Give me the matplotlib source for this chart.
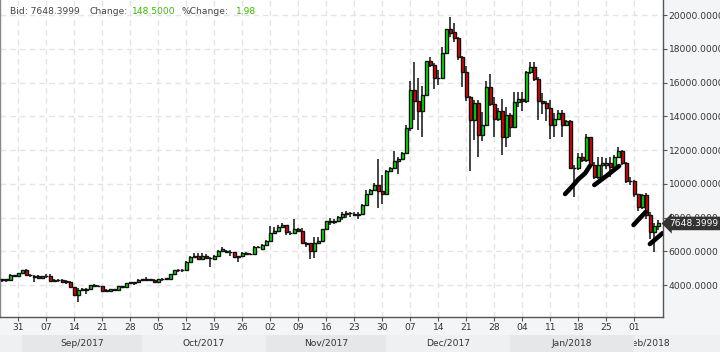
import matplotlib
matplotlib.use('Agg')
import matplotlib.pyplot as plt
import matplotlib.dates as mdates
import matplotlib.transforms as mtransforms
from matplotlib.patches import Rectangle
import pandas as pd
import numpy as np

# ---------------- data (daily candles, 2017-08-26 .. 2018-02-07) ----------------
dates = pd.date_range('2017-08-26', '2018-02-07', freq='D')

opens = [
    4340, 4330, 4310, 4316, 4590, 4553,
    4711, 4869, 4593, 4560, 4514, 4435, 4514, 4514, 4237, 4300, 4316, 4198, 4198, 3881, 3408,
    3724, 3710, 3763, 4000, 3921, 3921, 3645, 3645, 3763, 3684, 3921, 3900, 4119, 4160, 4184,
    4307, 4310, 4347, 4307, 4184, 4347, 4360, 4347, 4633, 4878, 4860, 4878, 5368, 5653, 5694,
    5531, 5694, 5592, 5531, 5735, 6020, 6000, 5939, 5939, 5653, 5694, 5898, 5816, 5816, 6250, 6118,
    6392, 6588, 7058, 7215, 7450, 7529, 7098, 7058, 7294, 7176, 6470, 6470, 6000, 6470, 6627,
    7294, 7764, 7740, 7764, 8038, 8234, 8274, 8234, 8156, 8195, 8744, 9410, 9646, 9920, 9567,
    9371, 10782, 10939, 11370, 11440, 11796, 13300, 15552, 14919, 14287, 15235, 17252, 17015, 16264, 16264,
    17726, 19150, 18992, 18636, 17489, 16619, 15156, 13773, 14761, 12863, 13496, 15710, 14722, 13812, 14287, 12744,
    14049, 13377, 14840, 14998, 14880, 16619, 16911, 16198, 14931, 14772, 14495, 13466, 13862, 14178, 13466,
    13703, 10931, 10931, 11604, 11406, 12753, 11109, 10377, 11109, 11109, 11208, 10971, 11565, 11921, 11248, 10139,
    10139, 9387, 8634, 9308, 8120, 7149, 7506,
]
highs = [
    4370, 4360, 4370, 4650, 4620, 4740,
    4900, 4920, 4650, 4600, 4593, 4560, 4632, 4632, 4330, 4330, 4340, 4316, 4220, 3900, 3800,
    3800, 3840, 4020, 4040, 3990, 3940, 3763, 3790, 3790, 3950, 3970, 4140, 4205, 4205, 4330,
    4368, 4470, 4380, 4330, 4370, 4429, 4400, 4650, 4900, 4939, 4939, 5400, 5735, 5898, 5898,
    5898, 5857, 5653, 5760, 6050, 6265, 6050, 6061, 5980, 5735, 5930, 5940, 5880, 6300, 6300, 6420,
    6666, 7490, 7450, 7568, 7646, 7550, 7176, 7882, 7372, 7372, 6549, 6470, 6862, 6862, 7320,
    7800, 8000, 7882, 8060, 8352, 8391, 8300, 8313, 8313, 8780, 9606, 9680, 10038, 11488, 10547,
    10820, 11000, 11919, 11606, 11875, 13500, 16066, 17212, 16264, 15789, 17300, 17529, 17133, 16738, 18122,
    19200, 19862, 19506, 18700, 17550, 17000, 15200, 14959, 14959, 14247, 16066, 16501, 15117, 14500, 15038, 14563,
    14200, 15433, 15433, 15433, 16700, 17228, 17228, 16300, 15366, 14900, 14970, 14178, 14376, 14376, 13782,
    13782, 11100, 11800, 11800, 12950, 12800, 11300, 11604, 11604, 11500, 11604, 11700, 12198, 12000, 11300, 10400,
    10200, 9400, 9400, 9450, 8300, 7700, 7842,
]
lows = [
    4300, 4200, 4200, 4260, 4520, 4530,
    4690, 4550, 4470, 4198, 4356, 4400, 4435, 4198, 4220, 4200, 4180, 4080, 3860, 3369, 2973,
    3645, 3487, 3750, 3900, 3900, 3620, 3566, 3620, 3660, 3670, 3880, 3890, 4062, 4001, 4170,
    4246, 4266, 4230, 4150, 4160, 4266, 4300, 4330, 4600, 4755, 4776, 4860, 5286, 5592, 5490,
    5510, 5531, 5082, 5510, 5720, 5980, 5900, 5694, 5620, 5388, 5680, 5790, 5780, 5790, 6180, 6100,
    6370, 6570, 7019, 7156, 7430, 6980, 6941, 7019, 7150, 6470, 6235, 5530, 5608, 6450, 6600,
    7270, 7529, 7607, 7740, 7842, 8000, 8038, 8078, 7882, 8180, 8720, 9390, 9567, 8587, 8822,
    9350, 10700, 10900, 10586, 11400, 11760, 13150, 13773, 13180, 12744, 15200, 16900, 15631, 15829, 16200,
    17700, 18700, 18400, 17331, 15749, 14900, 10728, 12586, 11598, 12547, 13450, 14600, 12744, 13700, 11677, 12191,
    12800, 13300, 14563, 14300, 14812, 16500, 16100, 13782, 14139, 13700, 12634, 12753, 13800, 12792, 13400,
    10850, 9228, 10800, 11300, 11300, 11000, 10300, 10300, 10416, 10900, 10416, 10900, 11500, 11100, 10020, 9900,
    9200, 8400, 8500, 7900, 6700, 5950, 7248,
]
closes = [
    4330, 4320, 4340, 4593, 4560, 4711,
    4869, 4593, 4570, 4474, 4435, 4514, 4520, 4237, 4300, 4280, 4198, 4210, 3881, 3408, 3724,
    3710, 3763, 4000, 3921, 3960, 3645, 3660, 3763, 3684, 3921, 3900, 4119, 4144, 4140, 4307,
    4310, 4347, 4320, 4184, 4347, 4360, 4380, 4633, 4878, 4860, 4878, 5368, 5653, 5735, 5531,
    5694, 5592, 5600, 5735, 6020, 6143, 5939, 5960, 5653, 5694, 5898, 5816, 5830, 6265, 6235, 6392,
    6588, 7058, 7215, 7450, 7529, 7137, 7058, 7294, 7176, 6470, 6450, 6000, 6470, 6627, 7294,
    7764, 7740, 7764, 8038, 8234, 8274, 8260, 8156, 8195, 8744, 9410, 9646, 9920, 9567, 9371,
    10782, 10939, 11370, 11440, 11796, 13300, 15552, 14919, 14287, 15235, 17252, 17015, 16264, 16280, 17726,
    19150, 18952, 18636, 17489, 16619, 15156, 13773, 14761, 12863, 13496, 15710, 14722, 13812, 14287, 12744, 14049,
    13377, 14840, 14998, 14880, 16619, 16911, 16198, 14931, 14772, 14495, 13466, 13862, 14178, 13466, 13703,
    10931, 10960, 11604, 11406, 12753, 11109, 10377, 11109, 11208, 11248, 10971, 11565, 11921, 11248, 10139, 10150,
    9387, 8634, 9308, 8120, 7149, 7506, 7648,
]

ytick_values = [4000, 6000, 8000, 10000, 12000, 14000, 16000, 18000, 20000]
xtick_dates = pd.date_range('2017-08-31', '2018-02-01', freq='7D')
xtick_labels = ['31', '07', '14', '21', '28', '05', '12', '19', '26', '02', '09', '16',
                '23', '30', '07', '14', '21', '28', '04', '11', '18', '25', '01']
month_starts = ['2017-08-01', '2017-09-01', '2017-10-01', '2017-11-01', '2017-12-01',
                '2018-01-01', '2018-02-01', '2018-03-01']
month_labels = ['', 'Sep/2017', 'Oct/2017', 'Nov/2017', 'Dec/2017', 'Jan/2018', 'Feb/2018']

last_price = 7648.3999
header = [('Bid: 7648.3999', 'label'), ('Change:', 'label'), ('148.5000', 'value'),
          ('%Change:', 'label'), ('1.98', 'value')]

# hand-drawn black strokes (days after 2017-08-31, price)
strokes = [
    ([136.7, 138.4, 140.0, 141.7, 142.9], [9393, 9825, 10263, 10619, 11052]),
    ([144.0, 147.0, 150.2], [9926, 10459, 11052]),
    ([153.8, 155.3, 156.85], [7555, 7940, 8326]),
    ([157.9, 159.5, 161.0], [6430, 6750, 7064]),
]

# ---------------- figure ----------------
W, H = 720, 352
fig = plt.figure(figsize=(W / 100, H / 100), dpi=100)
fig.patch.set_facecolor('#f4f5f7')
plt.rcParams['font.family'] = ['DejaVu Sans']

ax = fig.add_axes([0, 35 / H, 663 / W, 317 / H])
ax.set_facecolor('white')

x = mdates.date2num(dates)
x0 = mdates.date2num(pd.Timestamp('2017-08-31'))
ppd = 4.0
xl = (x0 - 18.3 / ppd, x0 + (663 - 18.3) / ppd)
ax.set_xlim(*xl)
ax.set_ylim(2104, 20889)

o = np.array(opens, float); h = np.array(highs, float)
l = np.array(lows, float); c = np.array(closes, float)
up = c >= o
cols = np.where(up, '#00ee00', '#ee0000')
bottom = np.minimum(o, c)
height = np.maximum(np.abs(c - o), 30)

ax.vlines(x, l, h, color='#111111', lw=1.1, zorder=3)
ax.bar(x, height, bottom=bottom, width=0.88, color=cols, edgecolor='#111111',
       linewidth=1.0, zorder=4)

for sd, sp in strokes:
    ax.plot(x0 + np.array(sd), sp, color='black', lw=3.3, solid_capstyle='round',
            solid_joinstyle='round', zorder=6)

# grid
ax.set_xticks(mdates.date2num(xtick_dates))
ax.set_xticklabels(xtick_labels)
ax.set_yticks(ytick_values)
ax.set_yticklabels([f'{v:.4f}' for v in ytick_values])
ax.grid(True, color='#e4e4e4', lw=1.0, ls=(0, (4, 3)))
ax.set_axisbelow(True)
ax.yaxis.tick_right()
ax.tick_params(axis='y', direction='out', length=3, width=0.8, pad=1.0,
               labelsize=6.6, colors='#555555', labelcolor='#333333')
ax.tick_params(axis='x', direction='out', length=3, width=0.8, pad=1.5,
               labelsize=6.6, colors='#555555', labelcolor='#333333')
ax.spines['top'].set_visible(False)
ax.spines['left'].set_color('#888888')
ax.spines['right'].set_color('#555555')
ax.spines['bottom'].set_color('#555555')
for s in ['left', 'right', 'bottom']:
    ax.spines[s].set_linewidth(1.0)

# last price tag
trans = mtransforms.blended_transform_factory(ax.transAxes, ax.transData)
ax.text(1.0 + 6 / 663, last_price, f'{last_price:.4f}', transform=trans, ha='left', va='center',
        color='white', fontsize=6.6, clip_on=False, zorder=10,
        bbox=dict(boxstyle='larrow,pad=0.25', fc='#333333', ec='none'))

# header
xs_px = [10, 90, 132, 182, 236]
for (txt, kind), xp in zip(header, xs_px):
    fig.text(xp / W, (H - 11) / H, txt, ha='left', va='center', fontsize=6.6,
             color='#444444' if kind == 'label' else '#3cb800')

# month band
axb = fig.add_axes([0, 0, 1, 17 / H])
axb.set_xlim(xl[0], x0 + (W - 18.3) / ppd)
axb.set_ylim(0, 1)
axb.axis('off')
ms = [mdates.date2num(pd.Timestamp(m)) - 0.15 for m in month_starts]
for i, lab in enumerate(month_labels):
    a, b = ms[i], ms[i + 1]
    colr = '#e6e7e9' if i % 2 == 1 else '#eff0f2'
    rect = Rectangle((a, 0), b - a, 1, facecolor=colr, edgecolor='none')
    axb.add_patch(rect)
    if lab:
        ca = max(a, xl[0]); cb = min(b, xl[1])
        t = axb.text((ca + cb) / 2, 0.5, lab, ha='center', va='center', fontsize=6.6,
                     color='#333333', clip_on=True)
        t.set_clip_path(rect)

fig.savefig('out.png', dpi=100, facecolor=fig.get_facecolor())
